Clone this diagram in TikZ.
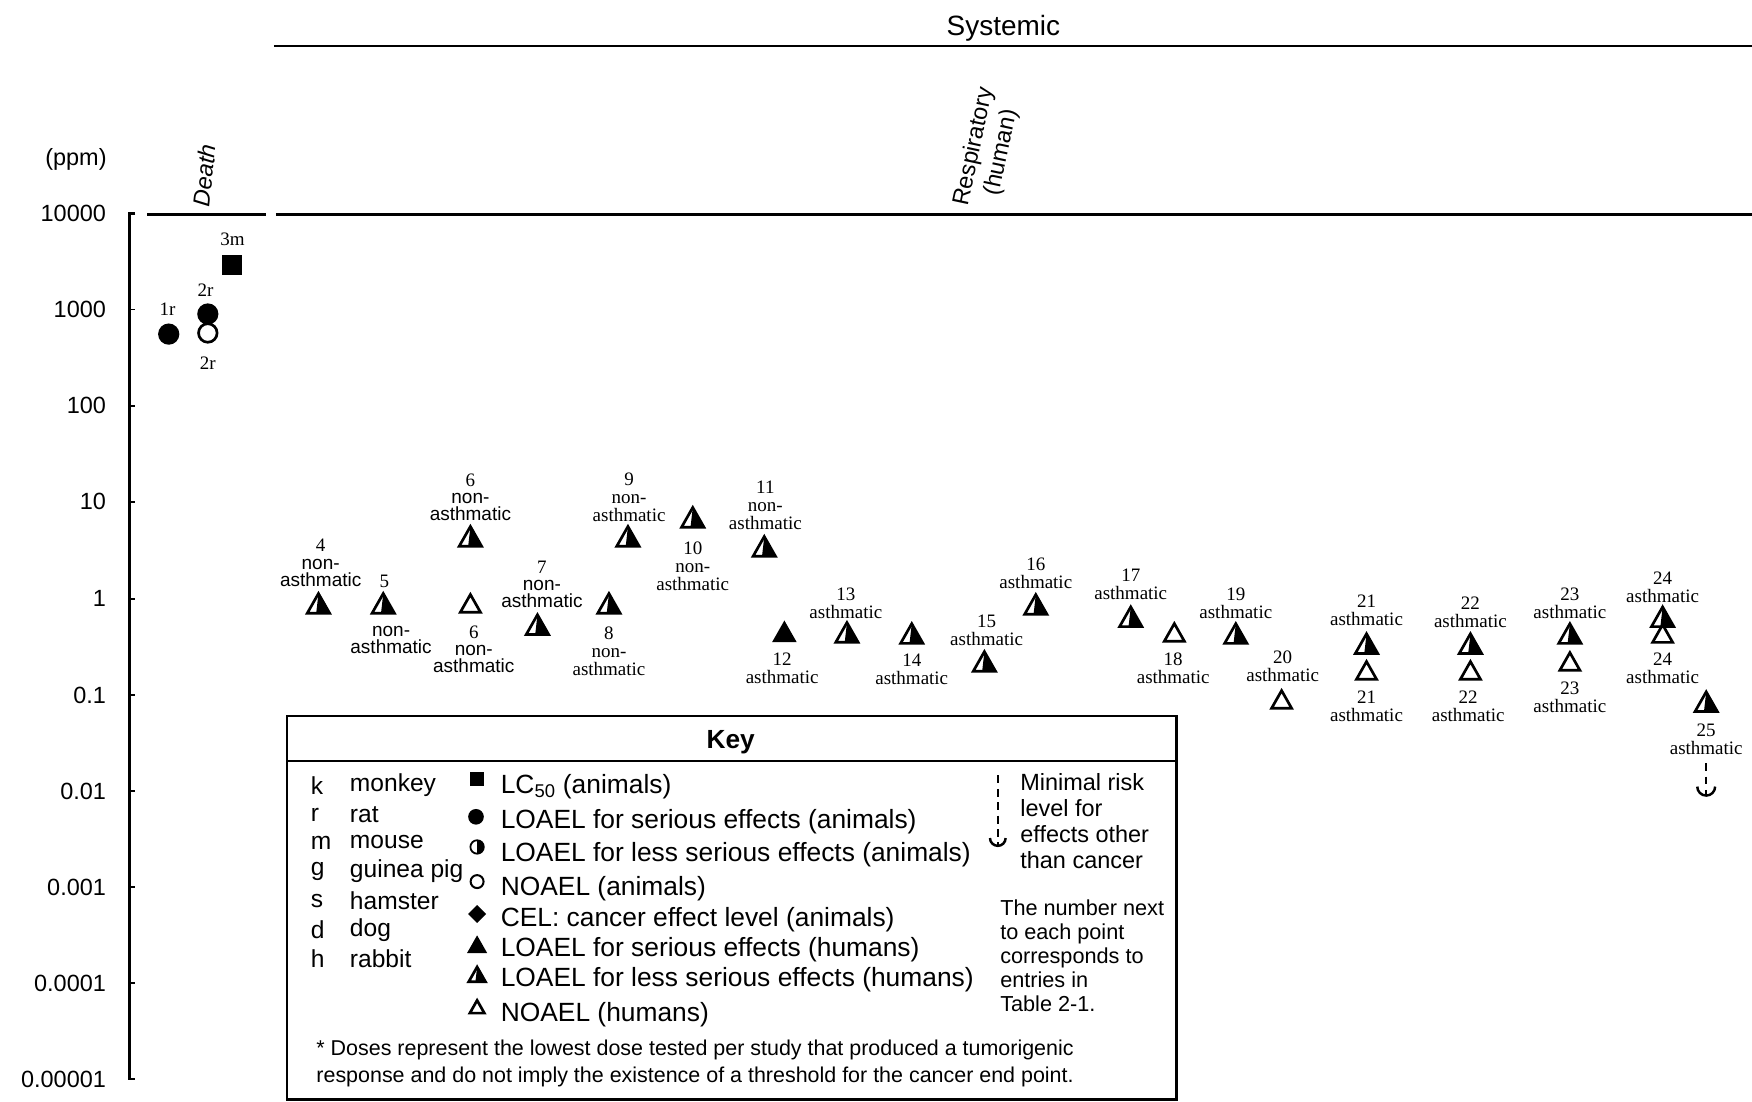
\documentclass[tikz,border=0pt]{standalone}
\usepackage{fontspec}
\setmainfont{Liberation Serif}
\setsansfont{Liberation Sans}
\usetikzlibrary{calc}
\newcommand\axfont{\sffamily\fontsize{21}{25}\selectfont}
\newcommand\ptfont{\rmfamily\fontsize{17}{16}\selectfont}
\newcommand\ptsfont{\sffamily\fontsize{17}{15.5}\selectfont}
\newcommand\keyfont{\sffamily\fontsize{23.6}{27}\selectfont}
\newcommand\spcfont{\sffamily\fontsize{22}{26}\selectfont}
\newcommand\notefont{\sffamily\fontsize{19.2}{24}\selectfont}
\newcommand\sidefont{\sffamily\fontsize{19.4}{21.5}\selectfont}
% markers: (x,y:half width)
\def\fulltri(#1,#2:#3){\fill (#1-#3,#2+0.88*#3) -- (#1,#2-0.88*#3) -- (#1+#3,#2+0.88*#3) -- cycle;}
\def\opentri(#1,#2:#3){\draw[line width=2.4pt,line join=miter] (#1-#3,#2+0.88*#3) -- (#1,#2-0.88*#3) -- (#1+#3,#2+0.88*#3) -- cycle;}
\def\halftri(#1,#2:#3){\opentri(#1,#2:#3)\fill (#1-0.2*#3,#2+0.88*#3) -- (#1,#2-0.88*#3) -- (#1+#3,#2+0.88*#3) -- cycle;}
% minimal risk level: (x,top,bottom:cup radius)
\def\mrl(#1,#2,#3:#4){\draw[line width=2.2pt,dash pattern=on 7pt off 5pt] (#1,#2) -- (#1,#3);
  \draw[line width=2.2pt] (#1-#4,#3-#4) arc (180:0:#4);}

\begin{document}
\begin{tikzpicture}[x=1pt,y=-1pt,
    axlab/.style={font=\axfont,anchor=east,inner sep=0pt},
    ptlab/.style={font=\ptfont,align=center,inner sep=0pt},
    ptslab/.style={font=\ptsfont,align=center,inner sep=0pt},
    keytxt/.style={font=\keyfont,anchor=west,inner sep=0pt},
    spctxt/.style={font=\spcfont,anchor=west,inner sep=0pt},
    sidetxt/.style={anchor=north west,align=left,inner sep=0pt}]
  \useasboundingbox (0,0) rectangle (1568,986);
  %%%%% START %%%%%

  % headings
  \node[font=\sffamily\fontsize{25}{30}\selectfont] (systemic) at (898,25) {Systemic};
  \draw[line width=2.2pt] (245,41) -- (1568,41);
  \node[font=\axfont] (ppm) at (68,143) {(ppm)};
  \node[font=\axfont\itshape,rotate=84] (death) at (183,157) {Death};
  \node[font=\axfont,rotate=78,align=center] (resp) at (884,134) {Respiratory\\(human)};
  \draw[line width=2.2pt] (132,192) -- (238,192);
  \draw[line width=2.2pt] (247,192) -- (1568,192);

  % axis
  \draw[line width=2pt] (121,191) -- (116,191) -- (116,966) -- (121,966);
  \draw[line width=1.6pt] (116,277) -- (121,277);
  \draw[line width=1.6pt] (116,363) -- (121,363);
  \draw[line width=1.6pt] (116,449) -- (121,449);
  \draw[line width=1.6pt] (116,536) -- (121,536);
  \draw[line width=1.6pt] (116,622) -- (121,622);
  \draw[line width=1.6pt] (116,708) -- (121,708);
  \draw[line width=1.6pt] (116,794) -- (121,794);
  \draw[line width=1.6pt] (116,880) -- (121,880);
  \node[axlab] (t0) at (95,191) {10000};
  \node[axlab] (t1) at (95,277) {1000};
  \node[axlab] (t2) at (95,363) {100};
  \node[axlab] (t3) at (95,449) {10};
  \node[axlab] (t4) at (95,536) {1};
  \node[axlab] (t5) at (95,622) {0.1};
  \node[axlab] (t6) at (95,708) {0.01};
  \node[axlab] (t7) at (95,794) {0.001};
  \node[axlab] (t8) at (95,880) {0.0001};
  \node[axlab] (t9) at (95,966) {0.00001};

  % death
  \fill (151,299) circle (9.5);
  \node[ptlab] (d1) at (150,277) {1r};
  \fill (186,281) circle (9.5);
  \node[ptlab] (d2a) at (184,260) {2r};
  \draw[line width=2.4pt,fill=white] (186,298) circle (8.3);
  \node[ptlab] (d2b) at (186,325) {2r};
  \fill (199,228) rectangle (217,246);
  \node[ptlab] (d3) at (208,214) {3m};

  % respiratory
  \halftri(285,540:10)
  \node[ptslab] (r4) at (287,504) {{\rmfamily 4}\\non-\\asthmatic};
  \halftri(343,540:10)
  \node[ptlab] (r5a) at (344,520) {5};
  \node[ptslab] (r5b) at (350,573) {non-\\asthmatic};
  \halftri(421,480:10)
  \node[ptslab] (r6a) at (421,445) {{\rmfamily 6}\\non-\\asthmatic};
  \opentri(421,540:9)
  \node[ptslab] (r6b) at (424,581) {{\rmfamily 6}\\non-\\asthmatic};
  \halftri(481,559:10)
  \node[ptslab] (r7) at (485,523) {{\rmfamily 7}\\non-\\asthmatic};
  \halftri(545,540:10)
  \node[ptlab] (r8) at (545,583) {8\\non-\\asthmatic};
  \halftri(562,480:10)
  \node[ptlab] (r9) at (563,445) {9\\non-\\asthmatic};
  \halftri(620,463:10)
  \node[ptlab] (r10) at (620,507) {10\\non-\\asthmatic};
  \halftri(684,489:10)
  \node[ptlab] (r11) at (685,452) {11\\non-\\asthmatic};
  \fulltri(702,565:11)
  \node[ptlab] (r12) at (700,598) {12\\asthmatic};
  \halftri(758,566:10)
  \node[ptlab] (r13) at (757,540) {13\\asthmatic};
  \halftri(816,567:10)
  \node[ptlab] (r14) at (816,599) {14\\asthmatic};
  \halftri(881,592:10)
  \node[ptlab] (r15) at (883,564) {15\\asthmatic};
  \halftri(927,541:10)
  \node[ptlab] (r16) at (927,513) {16\\asthmatic};
  \halftri(1012,552:10)
  \node[ptlab] (r17) at (1012,523) {17\\asthmatic};
  \opentri(1051,566:9)
  \node[ptlab] (r18) at (1050,598) {18\\asthmatic};
  \halftri(1106,567:10)
  \node[ptlab] (r19) at (1106,540) {19\\asthmatic};
  \opentri(1147,626:9)
  \node[ptlab] (r20) at (1148,596) {20\\asthmatic};
  \halftri(1223,576:10)
  \opentri(1223,600:9)
  \node[ptlab] (r21a) at (1223,546) {21\\asthmatic};
  \node[ptlab] (r21b) at (1223,632) {21\\asthmatic};
  \halftri(1316,576:10)
  \opentri(1316,600:9)
  \node[ptlab] (r22a) at (1316,548) {22\\asthmatic};
  \node[ptlab] (r22b) at (1314,632) {22\\asthmatic};
  \halftri(1405,567:10)
  \opentri(1405,592:9)
  \node[ptlab] (r23a) at (1405,540) {23\\asthmatic};
  \node[ptlab] (r23b) at (1405,624) {23\\asthmatic};
  \halftri(1488,552:10)
  \opentri(1488,567:9)
  \node[ptlab] (r24a) at (1488,526) {24\\asthmatic};
  \node[ptlab] (r24b) at (1488,598) {24\\asthmatic};
  \halftri(1527,628:10)
  \node[ptlab] (r25) at (1527,662) {25\\asthmatic};
  \mrl(1527,683,712:8)

  % key
  \draw[line width=2pt] (257,641) rectangle (1053,984);
  \draw[line width=2pt] (257,681) -- (1053,681);
  \node[font=\sffamily\bfseries\fontsize{23.5}{27}\selectfont] (key) at (654,664) {Key};

  \node[spctxt] (sk) at (278,703) {k};
  \node[spctxt] (sr) at (278,729) {r};
  \node[spctxt] (sm) at (278,754) {m};
  \node[spctxt] (sg) at (278,780) {g};
  \node[spctxt] (ss) at (278,806) {s};
  \node[spctxt] (sd) at (278,832) {d};
  \node[spctxt] (sh) at (278,858) {h};
  \node[spctxt] (nk) at (313,703) {monkey};
  \node[spctxt] (nr) at (313,729) {rat};
  \node[spctxt] (nm) at (313,754) {mouse};
  \node[spctxt] (ng) at (313,780) {guinea pig};
  \node[spctxt] (ns) at (313,806) {hamster};
  \node[spctxt] (nd) at (313,832) {dog};
  \node[spctxt] (nh) at (313,858) {rabbit};

  \fill (421,691) rectangle (433,703);
  \fill (426,731) circle (7);
  \draw[line width=1.6pt] (427,758) circle (6);
  \fill (427,752) arc (-90:90:6) -- cycle;
  \draw[line width=1.8pt] (427,789) circle (5.8);
  \fill (427,810) -- (435,818) -- (427,826) -- (419,818) -- cycle;
  \fulltri(427,845:9)
  \halftri(427,872:7.5)
  \opentri(427,901:6.5)
  \node[keytxt] (k1) at (448,704) {LC\textsubscript{50} (animals)};
  \node[keytxt] (k2) at (448,735) {LOAEL for serious effects (animals)};
  \node[keytxt] (k3) at (448,765) {LOAEL for less serious effects (animals)};
  \node[keytxt] (k4) at (448,795) {NOAEL (animals)};
  \node[keytxt] (k5) at (448,823) {CEL: cancer effect level (animals)};
  \node[keytxt] (k6) at (448,850) {LOAEL for serious effects (humans)};
  \node[keytxt] (k7) at (448,877) {LOAEL for less serious effects (humans)};
  \node[keytxt] (k8) at (448,908) {NOAEL (humans)};

  \mrl(893,694,757:7)
  \node[sidetxt,font=\sffamily\fontsize{21}{23.3}\selectfont] (mrltxt) at (913,692) {Minimal risk\\level for\\effects other\\than cancer};
  \node[sidetxt,font=\sidefont] (numtxt) at (895,805) {The number next\\to each point\\corresponds to\\entries in\\Table 2-1.};

  \node[font=\notefont,anchor=west,inner sep=0pt] (note1) at (283,940) {* Doses represent the lowest dose tested per study that produced a tumorigenic};
  \node[font=\notefont,anchor=west,inner sep=0pt] (note2) at (283,964) {response and do not imply the existence of a threshold for the cancer end point.};

  %%%%% END %%%%%
\end{tikzpicture}
\end{document}
